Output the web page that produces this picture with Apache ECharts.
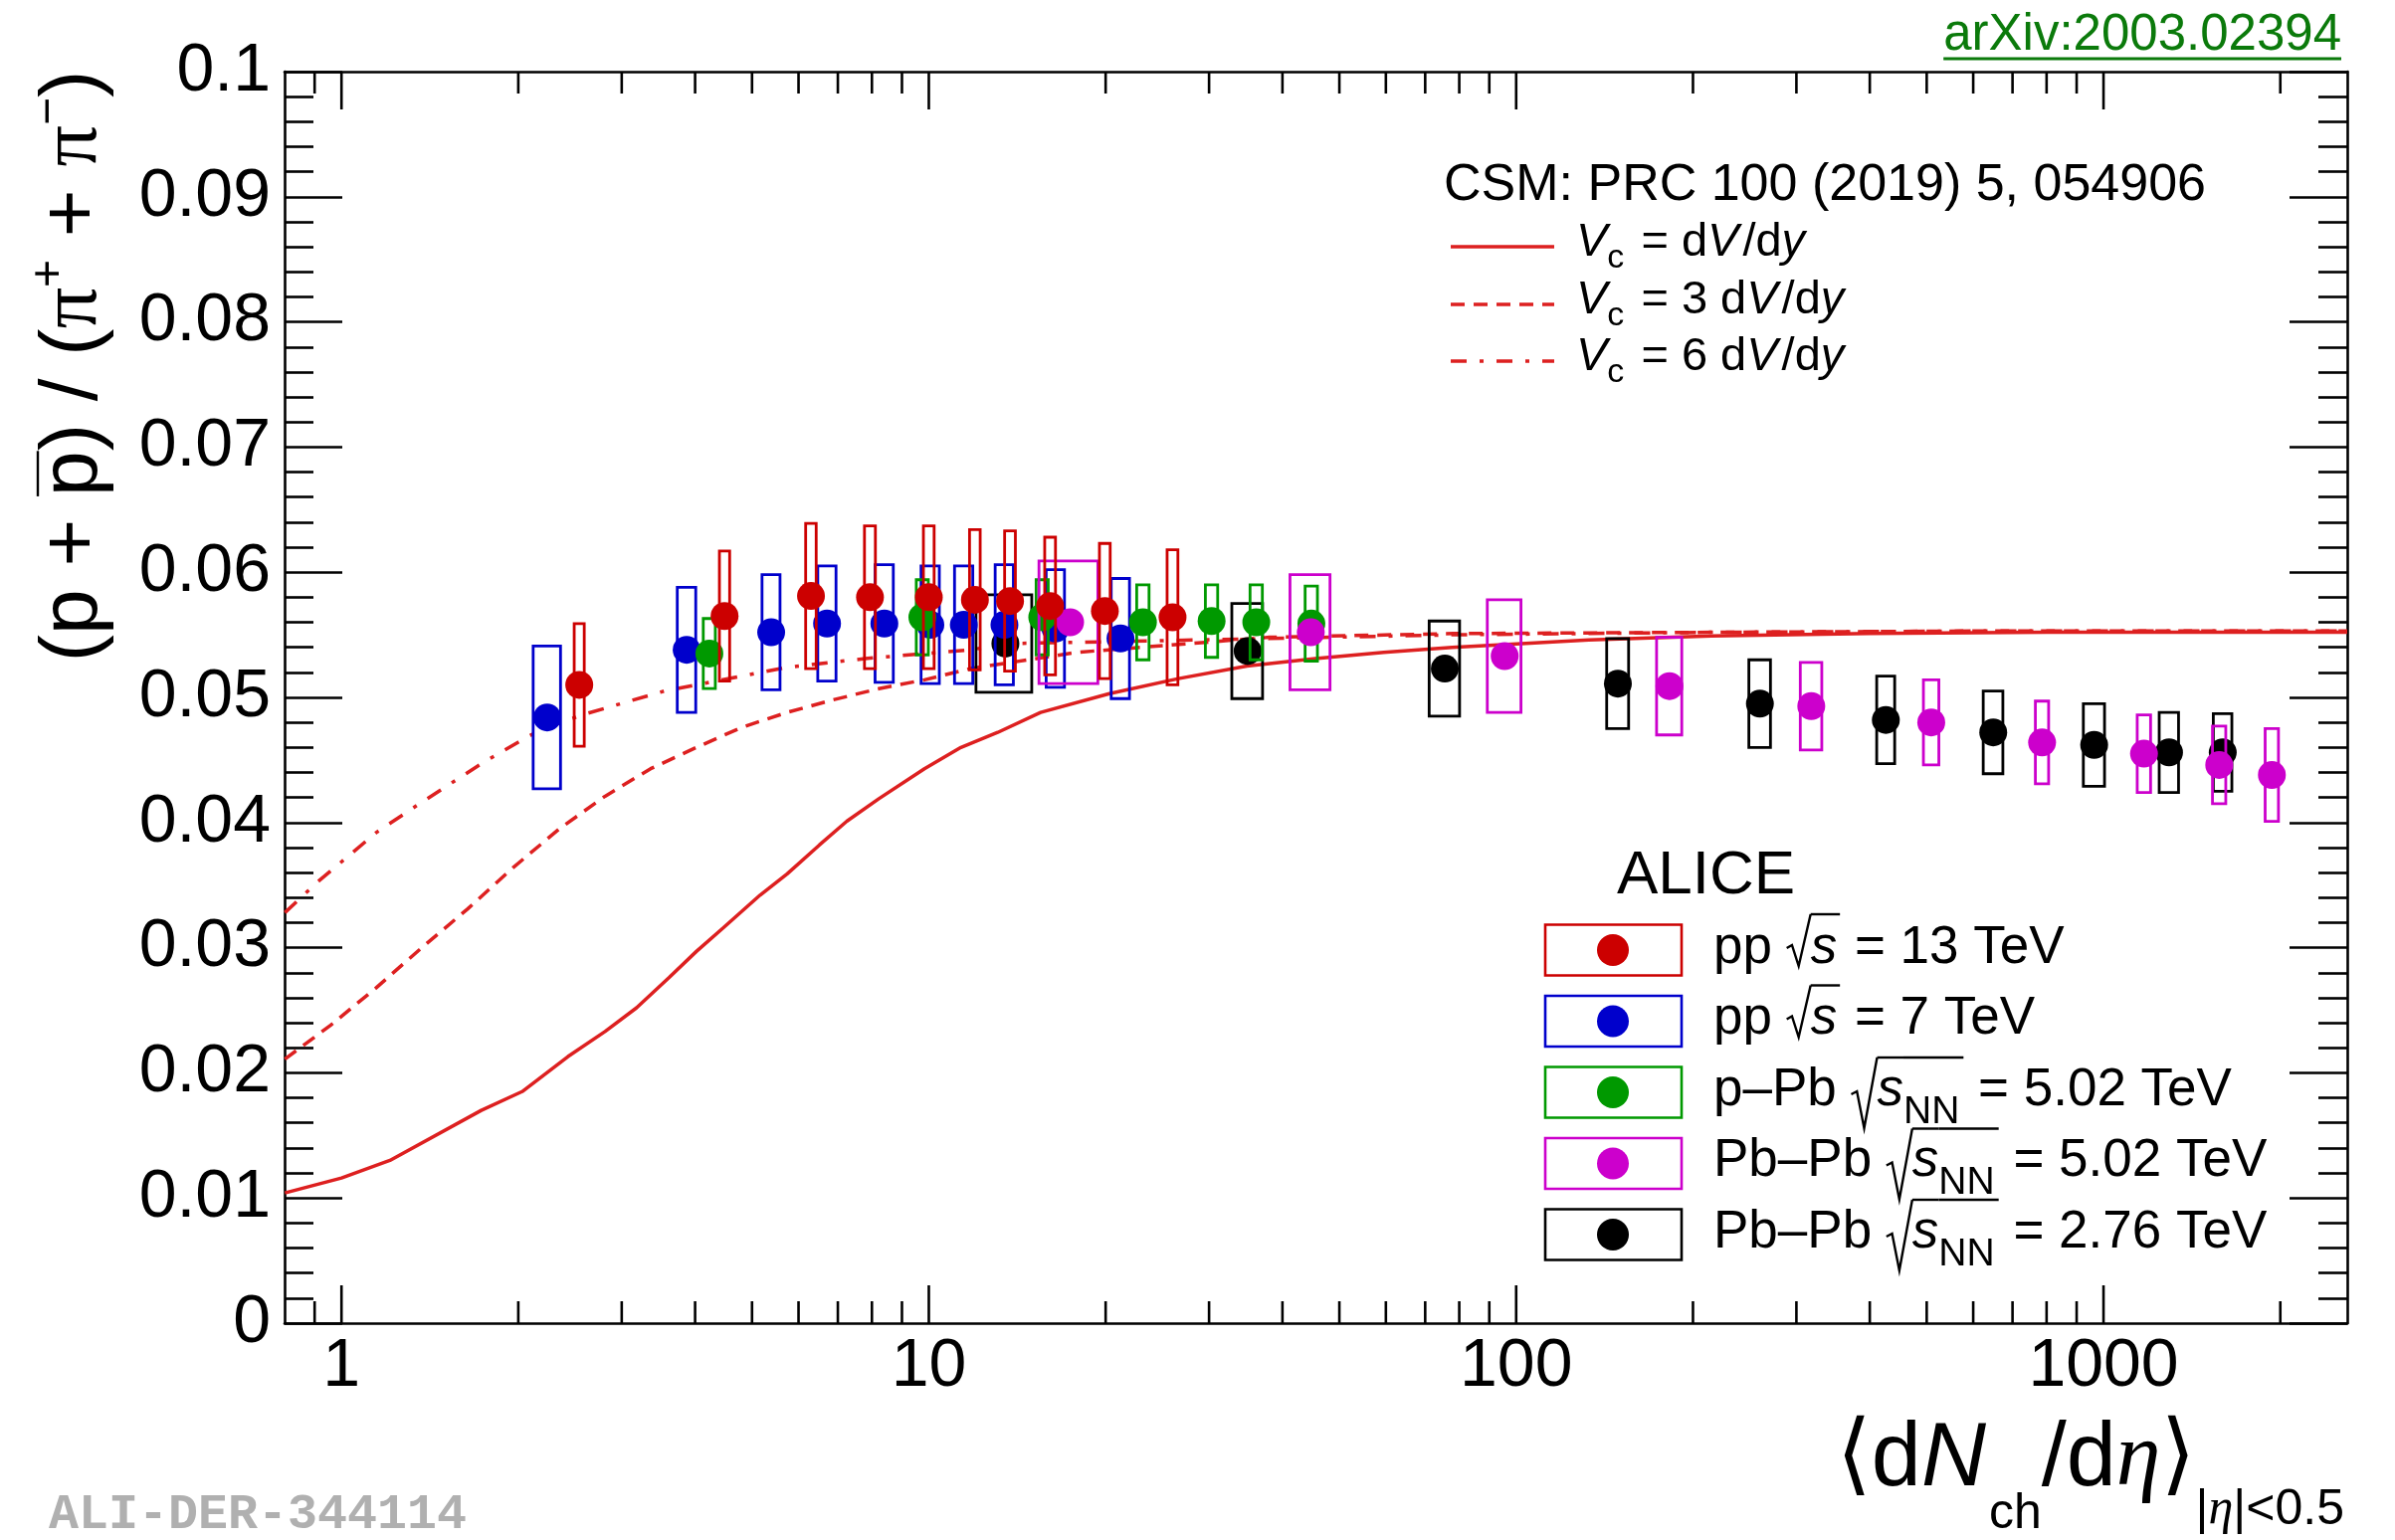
<!DOCTYPE html>
<html>
<head>
<meta charset="utf-8">
<title>(p + pbar) / (pi+ + pi-) vs charged-particle multiplicity</title>
<script src="https://cdn.jsdelivr.net/npm/echarts/dist/echarts.min.js"></script>
<style>
  html, body { margin: 0; padding: 0; background: #fff; }
  #chart { width: 2407px; height: 1548px; }
</style>
</head>
<body>
<div id="chart"></div>
<script>
// ---------------- measurements: <dNch/deta>, ratio, sys. half-widths ----------------
// pp, sqrt(s) = 13 TeV
const pp13X   = [2.54, 4.49, 6.30, 7.94, 10.0, 11.98, 13.75, 16.09, 19.94, 26.0];
const pp13Y   = [0.0510, 0.0565, 0.0581, 0.0580, 0.0580, 0.0578, 0.0577, 0.0573, 0.0569, 0.0564];
const pp13SysY = [0.0049, 0.0052, 0.0058, 0.0057, 0.0057, 0.0056, 0.0056, 0.0055, 0.0054, 0.0054];
const pp13SysX = [0.05, 0.09, 0.13, 0.17, 0.21, 0.25, 0.29, 0.34, 0.42, 0.55];

// pp, sqrt(s) = 7 TeV
const pp7X    = [2.24, 3.87, 5.39, 6.71, 8.40, 10.06, 11.47, 13.45, 16.43, 21.2];
const pp7Y    = [0.0484, 0.0538, 0.0552, 0.0559, 0.0559, 0.0558, 0.0558, 0.0558, 0.0555, 0.0547];
const pp7SysY = [0.0057, 0.0050, 0.0046, 0.0046, 0.0047, 0.0047, 0.0047, 0.0048, 0.0047, 0.0048];
const pp7SysX = [0.12, 0.14, 0.19, 0.24, 0.30, 0.36, 0.41, 0.48, 0.59, 0.76];

// p-Pb, sqrt(sNN) = 5.02 TeV
const pPbX    = [4.23, 9.75, 15.6, 23.15, 30.3, 36.1, 44.8];
const pPbY    = [0.0535, 0.0564, 0.0564, 0.0560, 0.0561, 0.0560, 0.0559];
const pPbSysY = [0.0028, 0.0030, 0.0030, 0.0030, 0.0029, 0.0030, 0.0030];
const pPbSysX = [0.10, 0.23, 0.37, 0.56, 0.73, 0.87, 1.08];

// Pb-Pb, sqrt(sNN) = 5.02 TeV
const PbPb502X    = [17.4, 44.7, 95.6, 182.4, 318, 509, 786, 1172, 1574, 1935];
const PbPb502Y    = [0.0560, 0.0552, 0.0533, 0.0509, 0.0493, 0.0480, 0.0464, 0.0455, 0.0446, 0.0438];
const PbPb502SysY = [0.0049, 0.0046, 0.0045, 0.0039, 0.0035, 0.0034, 0.0033, 0.0031, 0.0031, 0.0037];
const PbPb502SysX = [2.0, 3.5, 6.3, 9.0, 13.4, 15.4, 20.4, 30.7, 41, 50.5];

// Pb-Pb, sqrt(sNN) = 2.76 TeV
const PbPb276X    = [13.5, 34.9, 75.6, 149, 260, 426, 649, 964, 1293, 1596];
const PbPb276Y    = [0.0543, 0.0537, 0.0523, 0.0511, 0.0495, 0.0482, 0.0472, 0.0462, 0.0456, 0.0456];
const PbPb276SysY = [0.0039, 0.0038, 0.0038, 0.0036, 0.0035, 0.0035, 0.0033, 0.0033, 0.0032, 0.0031];
const PbPb276SysX = [1.47, 2.1, 4.5, 6.4, 11, 15, 25, 40, 49, 58];

// ---------------- canonical statistical model curves ----------------
const csm1X = [0.801, 1.0, 1.209, 1.73, 2.03, 2.43, 2.81, 3.18, 3.61, 4.02, 4.47, 5.16, 5.74, 6.51, 7.25, 8.22, 9.83, 11.34, 13.1, 15.5, 20.3, 26.6, 34.8, 45.5, 59.5, 77.8, 102, 133, 215, 400, 800, 2600];
const csm1Y = [0.0104, 0.0116, 0.0130, 0.0170, 0.0185, 0.0213, 0.0233, 0.0252, 0.0276, 0.0297, 0.0316, 0.0342, 0.0359, 0.0382, 0.0401, 0.0419, 0.0443, 0.0460, 0.0472, 0.0488, 0.0503, 0.0515, 0.0525, 0.0531, 0.0536, 0.0540, 0.0543, 0.0546, 0.0549, 0.0551, 0.0552, 0.0552];

const csm3X = [0.801, 0.958, 1.146, 1.37, 1.64, 1.96, 2.35, 2.81, 3.36, 4.02, 4.80, 5.74, 6.87, 8.22, 9.83, 11.77, 17.9, 38, 78, 215, 600, 2600];
const csm3Y = [0.0211, 0.0238, 0.0268, 0.0300, 0.0331, 0.0364, 0.0395, 0.0421, 0.0443, 0.0460, 0.0476, 0.0488, 0.0498, 0.0507, 0.0514, 0.0523, 0.0536, 0.0548, 0.0551, 0.0552, 0.0553, 0.0553];

const csm6X = [0.801, 0.908, 1.146, 1.347, 1.73, 2.03, 2.18, 2.57, 3.54, 4.80, 5.74, 7.79, 11.77, 13.7, 38, 77.8, 215, 600, 2600];
const csm6Y = [0.0328, 0.0352, 0.0392, 0.0414, 0.0447, 0.0466, 0.0474, 0.0486, 0.0505, 0.0517, 0.0524, 0.0531, 0.0538, 0.0543, 0.0547, 0.0550, 0.0552, 0.0553, 0.0553];

// ---------------- axis ticks and labels ----------------
const yTickLabels = ['0', '0.01', '0.02', '0.03', '0.04', '0.05', '0.06', '0.07', '0.08', '0.09', '0.1'];
const xTickLabels = ['1', '10', '100', '1000'];
const xMajorTicks = [1, 10, 100, 1000];
const xMinorTicks = [0.9, 2, 3, 4, 5, 6, 7, 8, 9, 20, 30, 40, 50, 60, 70, 80, 90,
                     200, 300, 400, 500, 600, 700, 800, 900, 2000];

// ---------------- styling ----------------
const SANS  = "'Liberation Sans', Arial, Helvetica, sans-serif";
const SERIF = "'Liberation Serif', 'DejaVu Serif', serif";
const DEJAVU = "'DejaVu Sans', sans-serif";
const MONO  = "'Liberation Mono', 'DejaVu Sans Mono', monospace";
const CURVE = '#dd2020';
const COL = { pp13: '#cc0000', pp7: '#0000cc', pPb: '#009900', PbPb502: '#cc00cc', PbPb276: '#000000' };
const DASH_3 = [14, 9];
const DASH_6 = [16, 13, 4, 13];

// ---------------- text helpers (pieces of formula text laid out left to right) ----------------
const mctx = document.createElement('canvas').getContext('2d');
function pieceFont(p, base) {
  return (p.italic ? 'italic ' : 'normal ') + (p.bold ? 'bold ' : 'normal ') +
         (p.size || base.size) + 'px ' + (p.family || base.family);
}
function buildRow(pieces, base, x0, yMid, align) {
  const widths = pieces.map(p => {
    if (p.rad) return p.rad.w;
    mctx.font = pieceFont(p, base);
    return mctx.measureText(p.t).width + (p.pad || 0);
  });
  const total = widths.reduce((a, b) => a + b, 0);
  let x = align === 'right' ? x0 - total : (align === 'center' ? x0 - total / 2 : x0);
  const color = base.color || '#000';
  const els = [];
  pieces.forEach((p, i) => {
    const w = widths[i];
    if (p.rad) {
      const r = p.rad;
      els.push({
        type: 'polyline', silent: true,
        shape: { points: [[x, yMid + r.mid], [x + w * 0.22, yMid + r.mid - 3], [x + w * 0.5, yMid + r.bottom], [x + w, yMid + r.top]] },
        style: { stroke: color, lineWidth: r.lw || 2.4, fill: null }
      });
    } else {
      els.push({
        type: 'text', silent: true, x: x, y: yMid + (p.dy || 0),
        style: { text: p.t, font: pieceFont(p, base), fill: color,
                 align: 'left', verticalAlign: 'middle', textAlign: 'left', textVerticalAlign: 'middle' }
      });
    }
    if (p.bar !== undefined) {
      els.push({ type: 'line', silent: true,
        shape: { x1: x, y1: yMid + p.bar, x2: x + w, y2: yMid + p.bar },
        style: { stroke: color, lineWidth: p.barW || 2.4 } });
    }
    x += w;
  });
  return els;
}

// ---------------- series builders ----------------
function measuredSeries(name, color, xs, ys, sx, sy) {
  return {
    type: 'custom', name: name, silent: true,
    xAxisIndex: 0, yAxisIndex: 0,
    encode: { x: 0, y: 1 },
    data: xs.map((x, i) => [x, ys[i], sx[i], sy[i]]),
    renderItem: function (params, api) {
      const x = api.value(0), y = api.value(1), ex = api.value(2), ey = api.value(3);
      const a = api.coord([x - ex, y + ey]);
      const b = api.coord([x + ex, y - ey]);
      const c = api.coord([x, y]);
      return {
        type: 'group',
        children: [
          { type: 'rect', shape: { x: a[0], y: a[1], width: b[0] - a[0], height: b[1] - a[1] },
            style: { fill: null, stroke: color, lineWidth: 2.8 } },
          { type: 'circle', shape: { cx: c[0], cy: c[1], r: 14 }, style: { fill: color } }
        ]
      };
    }
  };
}
function curveSeries(name, xs, ys, dash) {
  return {
    type: 'line', name: name, silent: true, symbol: 'none', showSymbol: false,
    smooth: false,
    data: xs.map((x, i) => [x, ys[i]]),
    lineStyle: { color: CURVE, width: 3.5, type: dash },
    z: 1
  };
}
const tickData = xMajorTicks.map(v => [v, 0, 1]).concat(xMinorTicks.map(v => [v, 0, 0]));

// ---------------- axes ----------------
const axisLineStyle = { color: '#000', width: 2.6 };
function fmtX(v) {
  const r = Math.round(v);
  return (Math.abs(v - r) < 1e-6 && xTickLabels.indexOf(String(r)) >= 0) ? String(r) : '';
}
function fmtY(v) {
  const k = Math.round(v / 0.01);
  return yTickLabels[k] !== undefined ? yTickLabels[k] : '';
}
const yAxisBase = {
  type: 'value', min: 0, max: 0.1, interval: 0.01,
  axisLine: { show: true, onZero: false, lineStyle: axisLineStyle },
  axisTick: { show: true, inside: true, length: 58, lineStyle: { color: '#000', width: 2.6 } },
  minorTick: { show: true, splitNumber: 5, length: 29, lineStyle: { color: '#000', width: 2.6 } },
  splitLine: { show: false }, minorSplitLine: { show: false }
};
const xAxisBase = {
  type: 'log', logBase: 10, min: 0.8, max: 2600,
  axisLine: { show: true, onZero: false, lineStyle: axisLineStyle },
  axisTick: { show: false }, minorTick: { show: false },
  splitLine: { show: false }, minorSplitLine: { show: false }
};

// ---------------- annotation text ----------------
const graphicEls = [];

// y-axis title (rotated)
const yTitle = buildRow([
  { t: '(p + ' }, { t: 'p', bar: -36 }, { t: ') / (' },
  { t: 'π', family: SERIF }, { t: '+', size: 48, dy: -24 }, { t: ' + ' },
  { t: 'π', family: SERIF }, { t: '−', size: 48, dy: -24 }, { t: ')' }
], { size: 82, family: SANS }, 0, 0, 'center');
graphicEls.push({ type: 'group', x: 74, y: 368, rotation: Math.PI / 2, silent: true, children: yTitle });

// x-axis title
graphicEls.push.apply(graphicEls, buildRow([
  { t: '⟨', family: DEJAVU }, { t: 'd' }, { t: 'N', italic: true, pad: 3 },
  { t: 'ch', size: 50, dy: 54 }, { t: '/d' }, { t: 'η', italic: true, family: SERIF },
  { t: '⟩', family: DEJAVU },
  { t: '|', size: 50, dy: 50 }, { t: 'η', size: 50, dy: 50, italic: true, family: SERIF }, { t: '|<0.5', size: 50, dy: 50 }
], { size: 90, family: SANS }, 2356, 1468, 'right'));

// arXiv reference (green, underlined)
(function () {
  const font = 'normal normal 51px ' + SANS;
  mctx.font = font;
  const w = mctx.measureText('arXiv:2003.02394').width;
  graphicEls.push({ type: 'text', silent: true, x: 2353, y: 36,
    style: { text: 'arXiv:2003.02394', font: font, fill: '#0b7a0b', align: 'right', verticalAlign: 'middle', textAlign: 'right', textVerticalAlign: 'middle' } });
  graphicEls.push({ type: 'line', silent: true, shape: { x1: 2353 - w, y1: 59, x2: 2353, y2: 59 }, style: { stroke: '#0b7a0b', lineWidth: 2.8 } });
})();

// figure identifier
graphicEls.push({ type: 'text', silent: true, x: 49, y: 1523,
  style: { text: 'ALI-DER-344114', font: 'normal bold 50px ' + MONO, fill: '#b0b0b0', align: 'left', verticalAlign: 'middle', textAlign: 'left', textVerticalAlign: 'middle' } });

// model legend
graphicEls.push({ type: 'text', silent: true, x: 1451, y: 187,
  style: { text: 'CSM: PRC 100 (2019) 5, 054906', font: 'normal normal 52px ' + SANS, fill: '#000', align: 'left', verticalAlign: 'middle', textAlign: 'left', textVerticalAlign: 'middle' } });
const csmRows = [
  { y: 248, dash: 'solid', factor: '' },
  { y: 306, dash: DASH_3, factor: '3 ' },
  { y: 363, dash: DASH_6, factor: '6 ' }
];
csmRows.forEach(r => {
  graphicEls.push({ type: 'line', silent: true, shape: { x1: 1458, y1: r.y, x2: 1562, y2: r.y },
    style: { stroke: CURVE, lineWidth: 3.5, lineDash: r.dash === 'solid' ? null : r.dash } });
  graphicEls.push.apply(graphicEls, buildRow([
    { t: 'V', italic: true }, { t: 'c', size: 34, dy: 16, pad: 4 }, { t: ' = ' + r.factor + 'd' },
    { t: 'V', italic: true, pad: 4 }, { t: '/d' }, { t: 'y', italic: true }
  ], { size: 47, family: SANS }, 1584, r.y - 4, 'left'));
});

// data legend
graphicEls.push({ type: 'text', silent: true, x: 1625, y: 881,
  style: { text: 'ALICE', font: 'normal normal 62px ' + SANS, fill: '#000', align: 'left', verticalAlign: 'middle', textAlign: 'left', textVerticalAlign: 'middle' } });
const radS  = { w: 24, top: -34, bottom: 18, mid: 0 };
const radNN = { w: 26, top: -33, bottom: 38, mid: 4 };
const legendRows = [
  { color: COL.pp13, pieces: [{ t: 'pp ' }, { rad: radS }, { t: 's', italic: true, bar: -34, pad: 3 }, { t: ' = 13 TeV' }] },
  { color: COL.pp7,  pieces: [{ t: 'pp ' }, { rad: radS }, { t: 's', italic: true, bar: -34, pad: 3 }, { t: ' = 7 TeV' }] },
  { color: COL.pPb,  pieces: [{ t: 'p–Pb ' }, { rad: radNN }, { t: 's', italic: true, bar: -33 }, { t: 'NN', size: 39, dy: 22, bar: -33, pad: 4 }, { t: ' = 5.02 TeV' }] },
  { color: COL.PbPb502, pieces: [{ t: 'Pb–Pb ' }, { rad: radNN }, { t: 's', italic: true, bar: -33 }, { t: 'NN', size: 39, dy: 22, bar: -33, pad: 4 }, { t: ' = 5.02 TeV' }] },
  { color: COL.PbPb276, pieces: [{ t: 'Pb–Pb ' }, { rad: radNN }, { t: 's', italic: true, bar: -33 }, { t: 'NN', size: 39, dy: 22, bar: -33, pad: 4 }, { t: ' = 2.76 TeV' }] }
];
legendRows.forEach((row, i) => {
  const yc = 955 + i * 71.5;
  graphicEls.push({ type: 'rect', silent: true, shape: { x: 1553, y: yc - 25.5, width: 137, height: 51 },
    style: { fill: null, stroke: row.color, lineWidth: 2.6 } });
  graphicEls.push({ type: 'circle', silent: true, shape: { cx: 1621, cy: yc, r: 16 }, style: { fill: row.color } });
  graphicEls.push.apply(graphicEls, buildRow(row.pieces, { size: 53, family: SANS }, 1722, yc - 2, 'left'));
});

// ---------------- chart ----------------
const chart = echarts.init(document.getElementById('chart'), null, { renderer: 'canvas' });
chart.setOption({
  animation: false,
  backgroundColor: '#ffffff',
  grid: { left: 286, right: 48, top: 72, bottom: 218, containLabel: false, outerBoundsMode: 'none' },
  xAxis: [
    Object.assign({}, xAxisBase, {
      position: 'bottom',
      axisLabel: { show: true, interval: 0, margin: 10, fontSize: 68, fontFamily: SANS, color: '#000',
                   showMinLabel: false, showMaxLabel: false, formatter: fmtX }
    }),
    Object.assign({}, xAxisBase, { position: 'top', axisLabel: { show: false } })
  ],
  yAxis: [
    Object.assign({}, yAxisBase, {
      position: 'left',
      axisLabel: { show: true, margin: 14, fontSize: 68, fontFamily: SANS, color: '#000', formatter: fmtY }
    }),
    Object.assign({}, yAxisBase, { position: 'right', axisLabel: { show: false } })
  ],
  series: [
    curveSeries('Vc = dV/dy', csm1X, csm1Y, 'solid'),
    curveSeries('Vc = 3 dV/dy', csm3X, csm3Y, DASH_3),
    curveSeries('Vc = 6 dV/dy', csm6X, csm6Y, DASH_6),
    measuredSeries('Pb-Pb 2.76 TeV', COL.PbPb276, PbPb276X, PbPb276Y, PbPb276SysX, PbPb276SysY),
    measuredSeries('pp 7 TeV', COL.pp7, pp7X, pp7Y, pp7SysX, pp7SysY),
    measuredSeries('p-Pb 5.02 TeV', COL.pPb, pPbX, pPbY, pPbSysX, pPbSysY),
    measuredSeries('Pb-Pb 5.02 TeV', COL.PbPb502, PbPb502X, PbPb502Y, PbPb502SysX, PbPb502SysY),
    measuredSeries('pp 13 TeV', COL.pp13, pp13X, pp13Y, pp13SysX, pp13SysY),
    {
      type: 'custom', name: 'x ticks', silent: true, encode: { x: 0, y: 1 },
      data: tickData,
      renderItem: function (params, api) {
        const v = api.value(0);
        const len = api.value(2) ? 38 : 22;
        const b = api.coord([v, 0]);
        const t = api.coord([v, 0.1]);
        return {
          type: 'group',
          children: [
            { type: 'line', shape: { x1: b[0], y1: b[1], x2: b[0], y2: b[1] - len }, style: { stroke: '#000', lineWidth: 2.6 } },
            { type: 'line', shape: { x1: t[0], y1: t[1], x2: t[0], y2: t[1] + len }, style: { stroke: '#000', lineWidth: 2.6 } }
          ]
        };
      }
    }
  ],
  graphic: { elements: graphicEls }
});
</script>
</body>
</html>
